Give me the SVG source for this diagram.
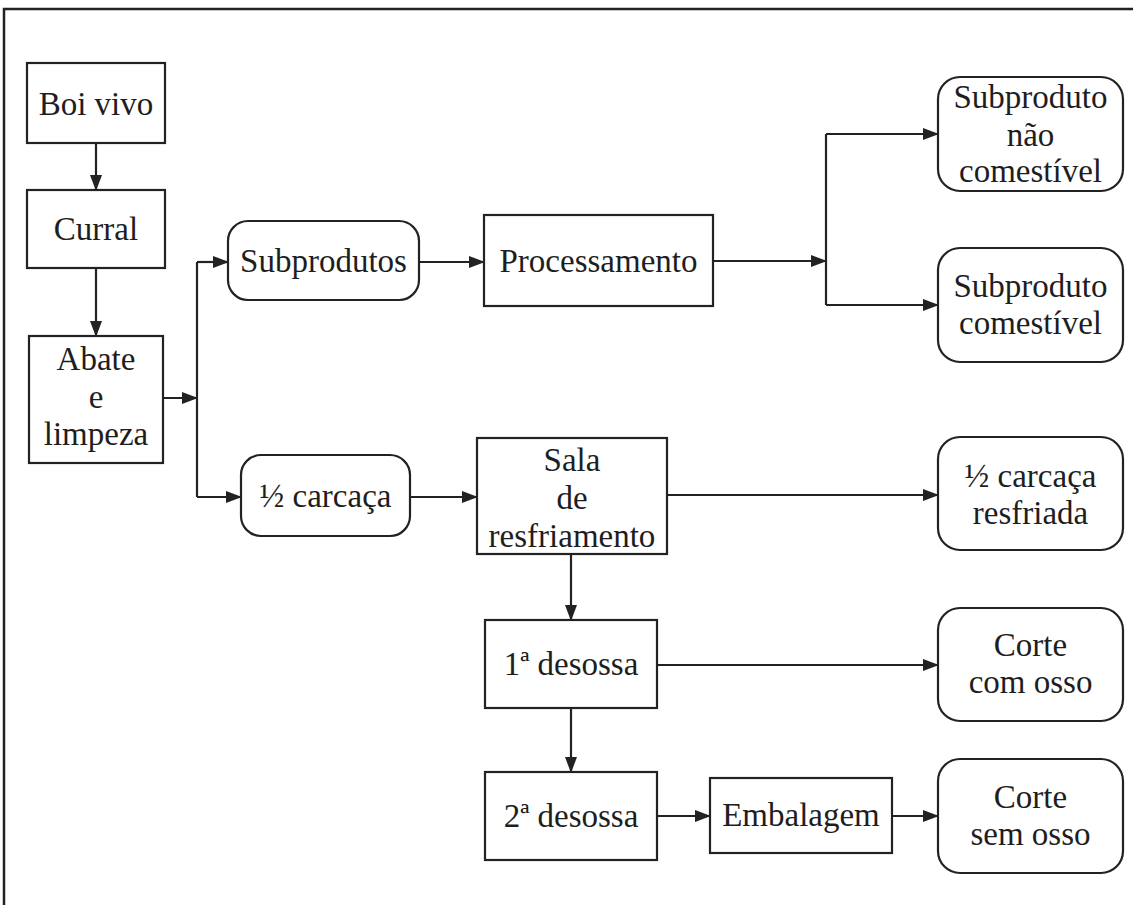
<svg xmlns="http://www.w3.org/2000/svg" width="1133" height="905" viewBox="0 0 1133 905">
<style>
.box{fill:#fff;stroke:#222;stroke-width:2.2}
.t{font-family:"Liberation Serif","Times New Roman",serif;font-size:33px;fill:#1e1e1e;text-anchor:middle}
.c{fill:none;stroke:#222;stroke-width:2.2}
</style>
<defs>
<marker id="ah" markerUnits="userSpaceOnUse" markerWidth="16" markerHeight="12" refX="15" refY="6" orient="auto">
<path d="M0,0 L16,6 L0,12 Z" fill="#222"/>
</marker>
</defs>
<rect width="1133" height="905" fill="#fff"/>
<path d="M4,905 V9 H1133" fill="none" stroke="#222" stroke-width="2.5"/>
<g id="connectors">
<path class="c" d="M96,143 V190" marker-end="url(#ah)"/>
<path class="c" d="M96,268 V336" marker-end="url(#ah)"/>
<path class="c" d="M163,398 H197" marker-end="url(#ah)"/>
<path class="c" d="M197,262 V497"/>
<path class="c" d="M197,262 H228" marker-end="url(#ah)"/>
<path class="c" d="M197,497 H241" marker-end="url(#ah)"/>
<path class="c" d="M419,262 H484" marker-end="url(#ah)"/>
<path class="c" d="M713,261 H826" marker-end="url(#ah)"/>
<path class="c" d="M826,134 V305"/>
<path class="c" d="M826,134 H938" marker-end="url(#ah)"/>
<path class="c" d="M826,305 H938" marker-end="url(#ah)"/>
<path class="c" d="M410,497 H477" marker-end="url(#ah)"/>
<path class="c" d="M667,495 H938" marker-end="url(#ah)"/>
<path class="c" d="M571,554 V620" marker-end="url(#ah)"/>
<path class="c" d="M657,665 H938" marker-end="url(#ah)"/>
<path class="c" d="M571,708 V772" marker-end="url(#ah)"/>
<path class="c" d="M657,816 H710" marker-end="url(#ah)"/>
<path class="c" d="M892,816 H938" marker-end="url(#ah)"/>
</g>
<g id="boi-vivo"><rect class="box" x="27" y="63" width="138" height="80"/><text class="t" x="96" y="115">Boi vivo</text></g>
<g id="curral"><rect class="box" x="27" y="190" width="138" height="78"/><text class="t" x="96" y="240">Curral</text></g>
<g id="abate"><rect class="box" x="29" y="336" width="134" height="127"/><text class="t" x="96" y="370">Abate</text><text class="t" x="96" y="408">e</text><text class="t" x="96" y="445">limpeza</text></g>
<g id="subprodutos"><rect class="box" x="228" y="221" width="191" height="79" rx="20"/><text class="t" x="323.5" y="272">Subprodutos</text></g>
<g id="processamento"><rect class="box" x="484" y="215" width="229" height="91"/><text class="t" x="598.5" y="272">Processamento</text></g>
<g id="subproduto-nao-comestivel"><rect class="box" x="938" y="77" width="185" height="114" rx="22"/><text class="t" x="1030.5" y="108">Subproduto</text><text class="t" x="1030.5" y="146">não</text><text class="t" x="1030.5" y="182">comestível</text></g>
<g id="subproduto-comestivel"><rect class="box" x="938" y="248" width="185" height="114" rx="22"/><text class="t" x="1030.5" y="297">Subproduto</text><text class="t" x="1030.5" y="334">comestível</text></g>
<g id="meia-carcaca"><rect class="box" x="241" y="455" width="169" height="81" rx="20"/><text class="t" x="325.5" y="507">½ carcaça</text></g>
<g id="sala-resfriamento"><rect class="box" x="477" y="438" width="190" height="116"/><text class="t" x="572" y="471">Sala</text><text class="t" x="572" y="509">de</text><text class="t" x="572" y="547">resfriamento</text></g>
<g id="meia-carcaca-resfriada"><rect class="box" x="938" y="437" width="185" height="113" rx="22"/><text class="t" x="1030.5" y="487">½ carcaça</text><text class="t" x="1030.5" y="524">resfriada</text></g>
<g id="primeira-desossa"><rect class="box" x="485" y="620" width="172" height="88"/><text class="t" x="571" y="675">1ª desossa</text></g>
<g id="corte-com-osso"><rect class="box" x="938" y="608" width="185" height="113" rx="22"/><text class="t" x="1030.5" y="656">Corte</text><text class="t" x="1030.5" y="693">com osso</text></g>
<g id="segunda-desossa"><rect class="box" x="485" y="772" width="172" height="88"/><text class="t" x="571" y="827">2ª desossa</text></g>
<g id="embalagem"><rect class="box" x="710" y="778" width="182" height="75"/><text class="t" x="801" y="826">Embalagem</text></g>
<g id="corte-sem-osso"><rect class="box" x="938" y="759" width="185" height="114" rx="22"/><text class="t" x="1030.5" y="808">Corte</text><text class="t" x="1030.5" y="845">sem osso</text></g>
</svg>
